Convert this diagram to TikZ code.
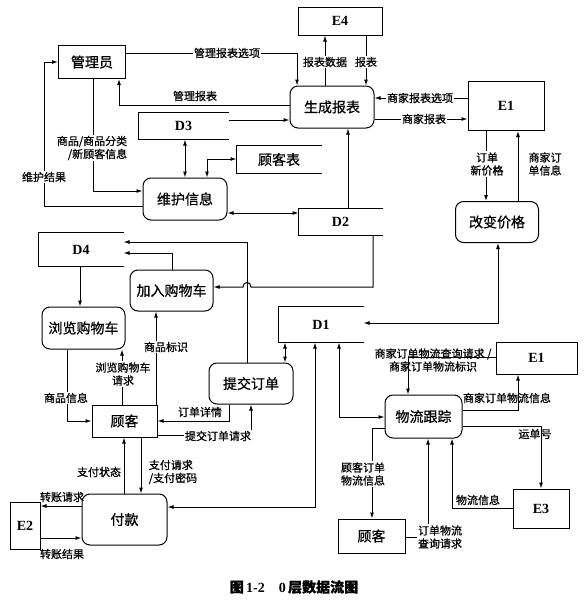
\documentclass[tikz,border=0pt]{standalone}
\usepackage{fontspec}
\setmainfont{Liberation Serif}
\newfontfamily\cjk{Noto Sans CJK SC}[FakeBold=0.8]
\usetikzlibrary{arrows.meta}
\begin{document}
\begin{tikzpicture}[x=1pt,y=-1pt,
  line width=1pt,
  >={Latex[length=6pt,width=4pt]},
  wh/.style 2 args={minimum width=#1pt, minimum height=#2pt},
  base/.style={inner sep=0pt, font=\cjk\fontsize{14}{16}\selectfont},
  ext/.style={base, draw, rectangle},
  proc/.style={base, draw, rounded corners=8pt},
  store/.style={base},
  idtxt/.style={font=\bfseries\fontsize{14}{16}\selectfont},
  lbl/.style={font=\cjk\fontsize{11}{13}\selectfont, inner sep=1pt, align=center},
  lblw/.style={lbl, fill=white},
  flow/.style={->},
  flow2/.style={<->},
  storeline/.style={line width=1pt}
]
\useasboundingbox (0,0) rectangle (587,605);

% ---------- nodes ----------
\node[ext, wh={67}{33}] (admin) at (92,62) {管理员};
\node[ext, wh={84}{28}, idtxt] (e4) at (340,21) {E4};
\node[proc, wh={84}{42}] (gen) at (332,107) {生成报表};
\node[ext, wh={76}{49}, idtxt] (e1a) at (506,106) {E1};
\node[proc, wh={83}{41}] (chg) at (497,222) {改变价格};
\node[store, wh={89}{26}, idtxt] (d3) at (183.5,126) {D3};
\node[store, wh={84}{27}] (cust) at (279,159.5) {顾客表};
\node[proc, wh={84}{42}] (maint) at (185,199) {维护信息};
\node[store, wh={83}{26}, idtxt] (d2) at (340.5,222) {D2};
\node[store, wh={84}{33}, idtxt] (d4) at (81,249.5) {D4};
\node[proc, wh={83}{41}] (add) at (171.5,290.5) {加入购物车};
\node[proc, wh={83}{42}] (browse) at (83.5,328) {浏览购物车};
\node[proc, wh={84}{41}] (submit) at (251,383.5) {提交订单};
\node[ext, wh={65}{32}] (cus1) at (124.5,421) {顾客};
\node[proc, wh={85}{51}] (pay) at (124.5,519.5) {付款};
\node[ext, wh={30}{47}, idtxt] (e2) at (25,525.5) {E2};
\node[store, wh={84}{35}, idtxt] (d1) at (321,324.5) {D1};
\node[ext, wh={81}{32}, idtxt] (e1b) at (536.5,358) {E1};
\node[proc, wh={77}{43}] (log) at (423.5,416.5) {物流跟踪};
\node[ext, wh={56}{39}, idtxt] (e3) at (541,508.5) {E3};
\node[ext, wh={67}{34}] (cus2) at (371.5,536) {顾客};

% data stores (open on the right)
\foreach \s in {d3,cust,d2,d4,d1}
  \draw[storeline] (\s.north east) -- (\s.north west) -- (\s.south west) -- (\s.south east);

% ---------- connectors ----------
\draw[flow] (admin.east |- 0,53) -- (297,53) -- (gen.north -| 297,0);
\draw[flow] (gen.west |- 0,105) -- (119,105) -- (admin.south -| 119,0);
\draw[flow] (d3.north east |- 0,120) -- (gen.west |- 0,120);
\draw[flow] (gen.north -| 325,0) -- (e4.south -| 325,0);
\draw[flow] (e4.south -| 366,0) -- (gen.north -| 366,0);
\draw[flow] (e1a.west |- 0,98) -- (gen.east |- 0,98);
\draw[flow] (gen.east |- 0,119) -- (e1a.west |- 0,119);
\draw[flow] (d2.north -| 348,0) -- (gen.south -| 348,0);
\draw[flow] (e1a.south -| 486,0) -- (chg.north -| 486,0);
\draw[flow] (chg.north -| 518,0) -- (e1a.south -| 518,0);
\draw[flow2] (chg.south -| 498,0) -- (498,323) -- (d1.east |- 0,323);

\draw[flow2] (d3.south -| 185,0) -- (maint.north -| 185,0);
\draw[flow2] (maint.north -| 207,0) -- (207,159) -- (cust.west |- 0,159);
\draw[flow] (admin.south -| 93,0) -- (93,191) -- (maint.west |- 0,191);
\draw[flow] (maint.west |- 0,206) -- (44,206) -- (44,62) -- (admin.west);
\draw[flow2] (maint.east |- 0,213) -- (d2.west |- 0,213);

\draw[flow] (d2.south -| 373,0) -- (373,287) -- (251,287)
  .. controls (251,281) and (243,281) .. (243,287) -- (add.east |- 0,287);
\draw[flow] (submit.north -| 247,0) -- (247,242) -- (d4.east |- 0,242);
\draw[flow] (add.north -| 172,0) -- (172,253) -- (d4.east |- 0,253);
\draw[flow] (d4.south -| 80,0) -- (browse.north -| 80,0);

\draw[flow] (cus1.north -| 156,0) -- (add.south -| 156,0);
\draw[flow] (cus1.north -| 122,0) -- (browse.south -| 122,0);
\draw[flow] (browse.south -| 67,0) -- (67,421) -- (cus1.west |- 0,421);
\draw[flow] (submit.south -| 229,0) -- (229,421) -- (cus1.east |- 0,421);
\draw[flow] (cus1.east |- 0,435) -- (251,435) -- (submit.south -| 251,0);
\draw[flow] (pay.north -| 124,0) -- (cus1.south -| 124,0);
\draw[flow] (cus1.south -| 141,0) -- (pay.north -| 141,0);
\draw[flow] (pay.west |- 0,506) -- (e2.east |- 0,506);
\draw[flow] (e2.east |- 0,538) -- (pay.west |- 0,538);

\draw[flow2] (pay.east |- 0,507) -- (315,507) -- (d1.south -| 315,0);
\draw[flow2] (submit.north -| 285,0) -- (d1.south -| 285,0);
\draw[flow2] (d1.south -| 339,0) -- (339,417) -- (log.west |- 0,417);
\draw[flow] (e1b.west |- 0,357) -- (408,357) -- (log.north -| 408,0);
\draw[flow] (log.east |- 0,410) -- (518,410) -- (e1b.south -| 518,0);
\draw[flow] (log.east |- 0,426) -- (541,426) -- (e3.north -| 541,0);
\draw[flow] (e3.west |- 0,508) -- (452,508) -- (log.south -| 452,0);
\draw[flow] (log.west |- 0,428) -- (372,428) -- (cus2.north -| 372,0);
\draw[flow] (cus2.east |- 0,537) -- (428,537) -- (log.south -| 428,0);

% ---------- labels ----------
\node[lblw] (l1) at (227,53) {管理报表选项};
\node[lbl]  (l2) at (195,96) {管理报表};
\node[lblw] (l4) at (325,62) {报表数据};
\node[lblw] (l5) at (366,62) {报表};
\node[lblw] (l6) at (420,98) {商家报表选项};
\node[lblw] (l7) at (424,119) {商家报表};
\node[lblw] (l9) at (487,164) {订单\\新价格};
\node[lbl]  (l10) at (545,164) {商家订\\单信息};
\node[lblw, align=right] (l14) at (92,148) {商品/商品分类\\/新顾客信息};
\node[lblw] (l15) at (44,177) {维护结果};
\node[lblw] (l21) at (166,347) {商品标识};
\node[lblw] (l22) at (123,374) {浏览购物车\\请求};
\node[lblw] (l23) at (66,398) {商品信息};
\node[lbl]  (l24) at (200,412) {订单详情};
\node[lblw] (l25) at (218,436) {提交订单请求};
\node[lbl]  (l26) at (99,472) {支付状态};
\node[lbl, align=left] (l27) at (173,472) {支付请求\\/支付密码};
\node[lbl]  (l28) at (62,497) {转账请求};
\node[lbl]  (l29) at (62,554) {转账结果};
\node[lbl]  (l33) at (433,360) {商家订单物流查询请求 /\\商家订单物流标识};
\node[lbl]  (l34) at (507,398) {商家订单物流信息};
\node[lbl]  (l35) at (535,434) {运单号};
\node[lbl]  (l36) at (478,500) {物流信息};
\node[lblw] (l37) at (363,474) {顾客订单\\物流信息};
\node[lblw] (l38) at (440,537) {订单物流\\查询请求};

% caption
\node[font=\bfseries\fontsize{14}{16}\selectfont, inner sep=0pt] (cap) at (294,587)
  {{\cjk 图}\,1-2\quad 0\,{\cjk 层数据流图}};
\end{tikzpicture}
\end{document}
